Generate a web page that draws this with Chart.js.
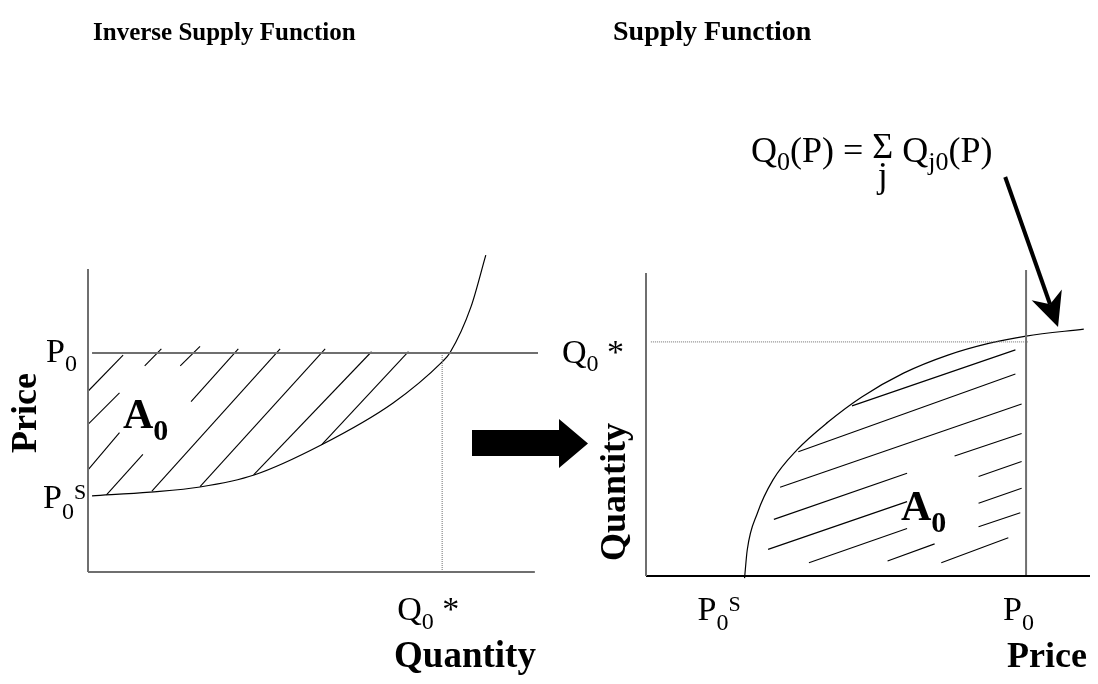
<!DOCTYPE html>
<html>
<head>
<meta charset="utf-8">
<script src="https://cdn.jsdelivr.net/npm/chart.js@4.4.0/dist/chart.umd.min.js"></script>
<style>
  body { margin: 0; background: #fff; }
  .box { position: absolute; top: 0; }
</style>
</head>
<body>
<div class="box" style="left:0"><canvas id="inv" width="600" height="684"></canvas></div>
<div class="box" style="left:549px"><canvas id="sup" width="549" height="684"></canvas></div>
<script>
// ---- left panel: inverse supply (x = quantity, y = price), 0..100 units
var invCurveQ = [0.9, 13.8, 24.9, 36.9, 51.8, 67.8, 78.7, 80.4, 85.1, 88.4];
var invCurveP = [24.1, 25.3, 26.9, 30.7, 40.2, 53.5, 66.5, 69.3, 83.9, 100.3];
var invP0 = 69.3, invP0S = 24.1, invQ0star = 78.7;
var invAxisTop = 95.9, invAxisEnd = 99.3, invP0LineEnd = 100;
// hatch segments [q1, p1, q2, p2]
var invHatch = [
  [0, 57.2, 7.8, 68.6],
  [0, 46.7, 7.0, 56.7], [12.6, 65.2, 16.3, 70.6],
  [0, 32.3, 7.0, 44.1], [20.5, 65.2, 24.9, 71.4],
  [4.1, 24.4, 12.2, 37.2], [22.9, 53.9, 33.4, 70.6],
  [14.2, 25.6, 42.7, 70.6],
  [24.9, 27.0, 52.7, 70.6],
  [36.8, 30.7, 63.0, 69.7],
  [51.9, 40.2, 71.2, 69.7]
];

// ---- right panel: supply (x = price, y = quantity), 0..100 units
var supCurveP = [22.2, 22.8, 25.1, 28.6, 34.0, 41.0, 48.6, 58.0, 68.0, 77.4, 85.6, 98.6];
var supCurveQ = [-0.7, 8.5, 20.6, 31.4, 41.2, 50.3, 58.5, 66.3, 72.2, 76.1, 78.4, 80.7];
var supP0 = 85.6, supP0S = 22.2, supQ0star = 76.5;
var supAxisTop = 99, supAxisEnd = 100, supP0LineTop = 100;
var supHatch = [
  [46.4, 55.6, 83.2, 73.9],
  [34.3, 40.6, 83.2, 66.0],
  [30.2, 29.0, 84.6, 56.2],
  [28.8, 18.5, 58.8, 33.6], [69.5, 39.2, 84.6, 46.6],
  [27.5, 8.7, 58.8, 24.3], [74.9, 32.5, 84.6, 37.4],
  [36.7, 4.3, 58.8, 15.5], [74.9, 23.8, 84.6, 28.7],
  [54.4, 4.9, 65.0, 10.5], [74.9, 16.1, 84.3, 20.7],
  [66.5, 4.3, 81.6, 12.5]
];
var arrowFrom = [80.9, 130.4], arrowTo = [92.8, 81.4];

var SERIF = '"Liberation Serif", "Times New Roman", serif';
var GREY = '#6f6f6f';

function pts(xs, ys) {
  return xs.map(function (v, i) { return { x: v, y: ys[i] }; });
}

function seg(x1, y1, x2, y2, color, width, dash) {
  return {
    data: [{ x: x1, y: y1 }, { x: x2, y: y2 }],
    showLine: true, borderColor: color, borderWidth: width,
    borderDash: dash || [], pointRadius: 0, clip: false
  };
}

function curve(xs, ys) {
  return {
    data: pts(xs, ys), showLine: true, borderColor: '#000', borderWidth: 1.2,
    cubicInterpolationMode: 'monotone', pointRadius: 0, clip: false
  };
}

function hatch(list) {
  return list.map(function (h) { return seg(h[0], h[1], h[2], h[3], '#000', 1.1); });
}

// text runs with sub/superscripts
function put(ctx, x, y, parts) {
  parts.forEach(function (p) {
    ctx.font = (p.b ? 'bold ' : '') + p.s + 'px ' + SERIF;
    ctx.fillText(p.t, x, y + (p.dy || 0));
    x += ctx.measureText(p.t).width;
  });
  return x;
}

function centered(ctx, txt, x, y, size, rot) {
  ctx.save();
  ctx.translate(x, y);
  if (rot) ctx.rotate(-Math.PI / 2);
  ctx.font = 'bold ' + size + 'px ' + SERIF;
  ctx.textAlign = 'center';
  ctx.fillText(txt, 0, 0);
  ctx.restore();
}

function opts(pad) {
  return {
    responsive: false, animation: false, events: [],
    layout: { padding: pad },
    plugins: { legend: { display: false }, tooltip: { enabled: false } },
    scales: {
      x: { type: 'linear', min: 0, max: 100, display: false },
      y: { type: 'linear', min: 0, max: 100, display: false }
    }
  };
}

var invLabels = {
  id: 'invLabels',
  afterDraw: function (chart) {
    var ctx = chart.ctx, xs = chart.scales.x, ys = chart.scales.y;
    ctx.save();
    ctx.fillStyle = '#000';
    put(ctx, 93, 40, [{ t: 'Inverse Supply Function', s: 25, b: true }]);
    centered(ctx, 'Price', 36, 413, 36, true);
    var yp = ys.getPixelForValue(invP0);
    put(ctx, 46, yp + 9, [{ t: 'P', s: 34 }, { t: '0', s: 24, dy: 9 }]);
    var yps = ys.getPixelForValue(invP0S);
    put(ctx, 43, yps + 12, [{ t: 'P', s: 34 }, { t: '0', s: 24, dy: 11 }, { t: 'S', s: 22, dy: -9 }]);
    put(ctx, 123, 428, [{ t: 'A', s: 42, b: true }, { t: '0', s: 30, b: true, dy: 12 }]);
    var xq = xs.getPixelForValue(invQ0star);
    put(ctx, xq - 45, 620, [{ t: 'Q', s: 34 }, { t: '0', s: 24, dy: 9 }, { t: ' *', s: 34 }]);
    centered(ctx, 'Quantity', 465, 667, 37, false);
    // block arrow pointing to the right panel
    ctx.beginPath();
    ctx.moveTo(472, 430); ctx.lineTo(559, 430); ctx.lineTo(559, 419);
    ctx.lineTo(588, 443.5); ctx.lineTo(559, 468); ctx.lineTo(559, 456);
    ctx.lineTo(472, 456); ctx.closePath();
    ctx.fill();
    ctx.restore();
  }
};

var supLabels = {
  id: 'supLabels',
  afterDraw: function (chart) {
    var ctx = chart.ctx, xs = chart.scales.x, ys = chart.scales.y;
    ctx.save();
    ctx.fillStyle = '#000';
    put(ctx, 64, 40, [{ t: 'Supply Function', s: 28, b: true }]);
    // Q0(P) = sum_j Qj0(P)
    var x = put(ctx, 202, 162, [{ t: 'Q', s: 36 }, { t: '0', s: 26, dy: 8 }, { t: '(P) = ', s: 36 }]);
    ctx.font = '36px ' + SERIF;
    var sw = ctx.measureText('\u03A3').width;
    ctx.fillText('\u03A3', x, 158);
    ctx.textAlign = 'center';
    ctx.fillText('j', x + sw / 2, 187);
    ctx.textAlign = 'left';
    put(ctx, x + sw, 162, [{ t: ' Q', s: 36 }, { t: 'j0', s: 26, dy: 8 }, { t: '(P)', s: 36 }]);

    centered(ctx, 'Quantity', 76, 492, 36, true);
    var yq = ys.getPixelForValue(supQ0star);
    put(ctx, 13, yq + 21, [{ t: 'Q', s: 34 }, { t: '0', s: 24, dy: 8 }, { t: ' *', s: 34 }]);
    put(ctx, xs.getPixelForValue(supP0S) - 47, 620, [{ t: 'P', s: 34 }, { t: '0', s: 24, dy: 10 }, { t: 'S', s: 22, dy: -9 }]);
    put(ctx, xs.getPixelForValue(supP0) - 23, 620, [{ t: 'P', s: 34 }, { t: '0', s: 24, dy: 10 }]);
    centered(ctx, 'Price', 498, 667, 36, false);
    put(ctx, 352, 520, [{ t: 'A', s: 42, b: true }, { t: '0', s: 30, b: true, dy: 12 }]);

    // arrow from the formula to the curve
    var fx = xs.getPixelForValue(arrowFrom[0]), fy = ys.getPixelForValue(arrowFrom[1]);
    var tx = xs.getPixelForValue(arrowTo[0]), ty = ys.getPixelForValue(arrowTo[1]);
    var a = Math.atan2(ty - fy, tx - fx), c = Math.cos(a), s = Math.sin(a);
    ctx.strokeStyle = '#000';
    ctx.lineWidth = 4;
    ctx.beginPath();
    ctx.moveTo(fx, fy);
    ctx.lineTo(tx - 24 * c, ty - 24 * s);
    ctx.stroke();
    ctx.beginPath();
    ctx.moveTo(tx, ty);
    ctx.lineTo(tx - 34 * c + 16 * s, ty - 34 * s - 16 * c);
    ctx.lineTo(tx - 24 * c, ty - 24 * s);
    ctx.lineTo(tx - 34 * c - 16 * s, ty - 34 * s + 16 * c);
    ctx.closePath();
    ctx.fill();
    ctx.restore();
  }
};

new Chart(document.getElementById('inv'), {
  type: 'scatter',
  data: {
    datasets: [
      seg(0, 0, 0, invAxisTop, GREY, 2),
      seg(0, 0, invAxisEnd, 0, GREY, 2),
      seg(0.9, invP0, invP0LineEnd, invP0, GREY, 2),
      seg(invQ0star, 0, invQ0star, invP0, GREY, 1, [1, 1]),
      curve(invCurveQ, invCurveP)
    ].concat(hatch(invHatch))
  },
  options: opts({ left: 88, right: 62, top: 256, bottom: 112 }),
  plugins: [invLabels]
});

new Chart(document.getElementById('sup'), {
  type: 'scatter',
  data: {
    datasets: [
      seg(0, 0, 0, supAxisTop, GREY, 2),
      seg(0, 0, supAxisEnd, 0, '#000', 2),
      seg(supP0, 0, supP0, supP0LineTop, GREY, 2),
      seg(1.1, supQ0star, supP0 + 0.4, supQ0star, GREY, 1, [1, 1]),
      curve(supCurveP, supCurveQ)
    ].concat(hatch(supHatch))
  },
  options: opts({ left: 97, right: 8, top: 270, bottom: 108 }),
  plugins: [supLabels]
});
</script>
</body>
</html>
